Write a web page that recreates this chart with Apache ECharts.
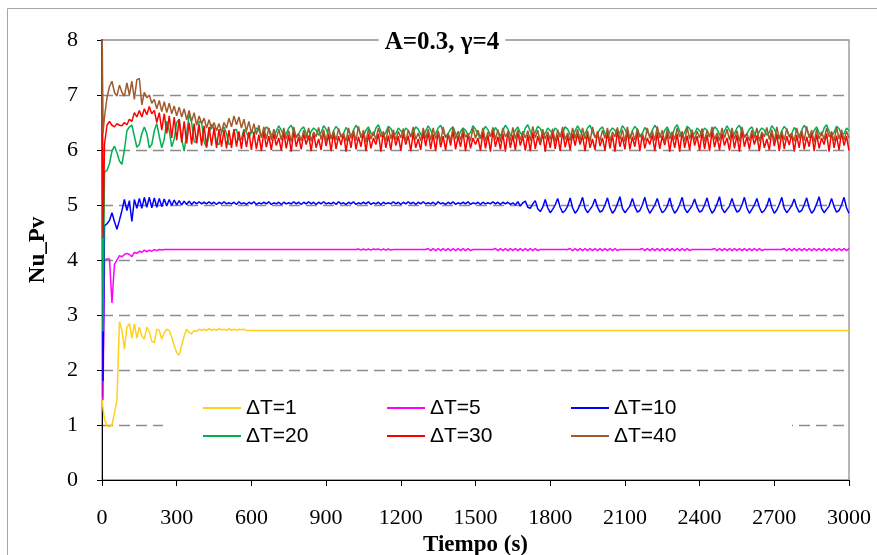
<!DOCTYPE html>
<html><head><meta charset="utf-8">
<script src="https://cdn.jsdelivr.net/npm/echarts@6.0.0/dist/echarts.min.js"></script>
<style>html,body{margin:0;padding:0;background:#fff;}#chart{width:877px;height:555px;}</style>
</head><body><div id="chart"></div>
<script>
// Sampling times (s)
const times = [0,4,
10,20,30,40,50,60,70,80,90,100,
110,120,130,140,150,160,170,180,190,200,
210,220,230,240,250,260,270,280,290,300,
310,320,330,340,350,360,370,380,390,400,
410,420,430,440,450,460,470,480,490,500,
510,520,530,540,550,560,570,580,590,600,
610,620,630,640,650,660,670,680,690,700,
710,720,730,740,750,760,770,780,790,800,
810,820,830,840,850,860,870,880,890,900,
910,920,930,940,950,960,970,980,990,1000,
1010,1020,1030,1040,1050,1060,1070,1080,1090,1100,
1110,1120,1130,1140,1150,1160,1170,1180,1190,1200,
1210,1220,1230,1240,1250,1260,1270,1280,1290,1300,
1310,1320,1330,1340,1350,1360,1370,1380,1390,1400,
1410,1420,1430,1440,1450,1460,1470,1480,1490,1500,
1510,1520,1530,1540,1550,1560,1570,1580,1590,1600,
1610,1620,1630,1640,1650,1660,1670,1680,1690,1700,
1710,1720,1730,1740,1750,1760,1770,1780,1790,1800,
1810,1820,1830,1840,1850,1860,1870,1880,1890,1900,
1910,1920,1930,1940,1950,1960,1970,1980,1990,2000,
2010,2020,2030,2040,2050,2060,2070,2080,2090,2100,
2110,2120,2130,2140,2150,2160,2170,2180,2190,2200,
2210,2220,2230,2240,2250,2260,2270,2280,2290,2300,
2310,2320,2330,2340,2350,2360,2370,2380,2390,2400,
2410,2420,2430,2440,2450,2460,2470,2480,2490,2500,
2510,2520,2530,2540,2550,2560,2570,2580,2590,2600,
2610,2620,2630,2640,2650,2660,2670,2680,2690,2700,
2710,2720,2730,2740,2750,2760,2770,2780,2790,2800,
2810,2820,2830,2840,2850,2860,2870,2880,2890,2900,
2910,2920,2930,2940,2950,2960,2970,2980,2990,3000];

const seriesNames = ['ΔT=1','ΔT=5','ΔT=10','ΔT=20','ΔT=30','ΔT=40'];

// ΔT=1
const nu1 = [1.5,1.3,
1.1,0.98,0.97,1.0,1.22,1.45,2.88,2.72,2.38,2.78,
2.84,2.58,2.84,2.58,2.78,2.62,2.56,2.78,2.7,2.52,
2.5,2.74,2.72,2.56,2.68,2.74,2.72,2.6,2.44,2.32,
2.27,2.45,2.62,2.74,2.68,2.66,2.72,2.7,2.74,2.72,
2.74,2.72,2.75,2.72,2.74,2.72,2.75,2.73,2.74,2.72,
2.75,2.72,2.74,2.72,2.74,2.73,2.74,2.72,2.72,2.72,
2.72,2.72,2.72,2.72,2.72,2.72,2.72,2.72,2.72,2.72,
2.72,2.72,2.72,2.72,2.72,2.72,2.72,2.72,2.72,2.72,
2.72,2.72,2.72,2.72,2.72,2.72,2.72,2.72,2.72,2.72,
2.72,2.72,2.72,2.72,2.72,2.72,2.72,2.72,2.72,2.72,
2.72,2.72,2.72,2.72,2.72,2.72,2.72,2.72,2.72,2.72,
2.72,2.72,2.72,2.72,2.72,2.72,2.72,2.72,2.72,2.72,
2.72,2.72,2.72,2.72,2.72,2.72,2.72,2.72,2.72,2.72,
2.72,2.72,2.72,2.72,2.72,2.72,2.72,2.72,2.72,2.72,
2.72,2.72,2.72,2.72,2.72,2.72,2.72,2.72,2.72,2.72,
2.72,2.72,2.72,2.72,2.72,2.72,2.72,2.72,2.72,2.72,
2.72,2.72,2.72,2.72,2.72,2.72,2.72,2.72,2.72,2.72,
2.72,2.72,2.72,2.72,2.72,2.72,2.72,2.72,2.72,2.72,
2.72,2.72,2.72,2.72,2.72,2.72,2.72,2.72,2.72,2.72,
2.72,2.72,2.72,2.72,2.72,2.72,2.72,2.72,2.72,2.72,
2.72,2.72,2.72,2.72,2.72,2.72,2.72,2.72,2.72,2.72,
2.72,2.72,2.72,2.72,2.72,2.72,2.72,2.72,2.72,2.72,
2.72,2.72,2.72,2.72,2.72,2.72,2.72,2.72,2.72,2.72,
2.72,2.72,2.72,2.72,2.72,2.72,2.72,2.72,2.72,2.72,
2.72,2.72,2.72,2.72,2.72,2.72,2.72,2.72,2.72,2.72,
2.72,2.72,2.72,2.72,2.72,2.72,2.72,2.72,2.72,2.72,
2.72,2.72,2.72,2.72,2.72,2.72,2.72,2.72,2.72,2.72,
2.72,2.72,2.72,2.72,2.72,2.72,2.72,2.72,2.72,2.72,
2.72,2.72,2.72,2.72,2.72,2.72,2.72,2.72,2.72,2.72,
2.72,2.72,2.72,2.72,2.72,2.72,2.72,2.72,2.72,2.72];

// ΔT=5
const nu5 = [8.5,1.45,
4.0,4.02,4.02,3.22,3.92,4.0,4.08,4.06,4.1,4.12,
4.1,4.06,4.14,4.12,4.16,4.14,4.18,4.15,4.18,4.16,
4.19,4.17,4.19,4.18,4.19,4.19,4.19,4.19,4.19,4.19,
4.19,4.19,4.19,4.19,4.19,4.19,4.19,4.19,4.19,4.19,
4.19,4.19,4.19,4.19,4.19,4.19,4.19,4.19,4.19,4.19,
4.19,4.19,4.19,4.19,4.19,4.19,4.19,4.19,4.19,4.19,
4.19,4.19,4.19,4.19,4.19,4.19,4.19,4.19,4.19,4.19,
4.19,4.19,4.19,4.19,4.19,4.19,4.19,4.19,4.19,4.19,
4.19,4.19,4.19,4.19,4.19,4.19,4.19,4.19,4.19,4.19,
4.19,4.19,4.19,4.19,4.19,4.19,4.19,4.19,4.19,4.19,
4.19,4.19,4.2,4.18,4.2,4.18,4.2,4.18,4.2,4.19,
4.2,4.18,4.2,4.18,4.2,4.18,4.19,4.19,4.19,4.19,
4.19,4.19,4.19,4.19,4.19,4.19,4.19,4.19,4.19,4.19,
4.21,4.17,4.21,4.17,4.21,4.17,4.21,4.17,4.21,4.17,
4.21,4.17,4.21,4.17,4.21,4.17,4.21,4.17,4.19,4.19,
4.19,4.19,4.19,4.19,4.19,4.19,4.19,4.21,4.17,4.21,
4.17,4.21,4.17,4.21,4.17,4.21,4.17,4.21,4.17,4.21,
4.17,4.21,4.17,4.21,4.17,4.19,4.19,4.19,4.19,4.19,
4.19,4.19,4.19,4.19,4.19,4.19,4.19,4.21,4.17,4.21,
4.17,4.21,4.17,4.21,4.17,4.21,4.17,4.21,4.17,4.21,
4.17,4.21,4.17,4.21,4.17,4.21,4.17,4.19,4.19,4.19,
4.19,4.19,4.19,4.19,4.19,4.19,4.21,4.17,4.21,4.17,
4.21,4.17,4.21,4.17,4.21,4.17,4.21,4.17,4.21,4.17,
4.21,4.17,4.21,4.17,4.21,4.17,4.19,4.19,4.19,4.19,
4.19,4.19,4.19,4.19,4.19,4.21,4.17,4.21,4.17,4.21,
4.17,4.21,4.17,4.21,4.17,4.21,4.17,4.21,4.17,4.21,
4.17,4.21,4.17,4.21,4.17,4.19,4.19,4.19,4.19,4.19,
4.19,4.19,4.19,4.21,4.17,4.21,4.17,4.21,4.17,4.21,
4.17,4.21,4.17,4.21,4.17,4.21,4.17,4.21,4.17,4.21,
4.17,4.21,4.17,4.21,4.17,4.21,4.17,4.21,4.17,4.21];

// ΔT=10
const nu10 = [8.5,1.8,
4.62,4.66,4.72,4.86,4.7,4.56,4.72,4.9,5.1,4.9,
5.08,4.7,5.1,4.94,5.12,4.94,5.14,4.96,5.14,4.95,
5.13,4.96,5.12,4.97,5.11,4.98,5.1,4.99,5.09,5.0,
5.08,5.0,5.07,5.01,5.07,5.01,5.06,5.02,5.06,5.02,
5.05,5.02,5.06,5.02,5.05,5.01,5.05,5.02,5.06,5.02,
5.04,5.02,5.05,5.01,5.06,5.02,5.04,5.01,5.05,5.02,
5.06,5.01,5.04,5.02,5.05,5.02,5.06,5.01,5.04,5.02,
5.05,5.01,5.05,5.02,5.04,5.02,5.06,5.02,5.05,5.01,
5.05,5.02,5.06,5.02,5.05,5.01,5.05,5.02,5.06,5.02,
5.04,5.02,5.05,5.01,5.06,5.02,5.04,5.01,5.05,5.02,
5.06,5.01,5.04,5.02,5.05,5.02,5.06,5.01,5.04,5.02,
5.05,5.01,5.05,5.02,5.04,5.02,5.06,5.02,5.05,5.01,
5.05,5.02,5.06,5.02,5.05,5.01,5.05,5.02,5.06,5.02,
5.04,5.02,5.05,5.01,5.06,5.02,5.04,5.01,5.05,5.02,
5.06,5.01,5.04,5.02,5.05,5.02,5.06,5.01,5.04,5.02,
5.05,5.01,5.05,5.02,5.04,5.02,5.06,5.02,5.05,5.01,
5.05,5.02,5.05,5.01,5.04,5.0,5.06,4.98,5.04,5.07,
4.96,4.94,5.02,5.08,4.93,4.88,4.96,5.1,4.95,4.86,
4.92,5.0,5.12,4.96,4.86,4.9,4.98,5.13,4.95,4.85,
4.91,5.01,5.14,4.94,4.86,4.92,4.99,5.11,4.96,4.87,
4.9,5.0,5.13,4.95,4.85,4.91,5.02,5.15,4.94,4.86,
4.92,4.98,5.12,4.97,4.87,4.9,5.0,5.14,4.95,4.85,
4.92,5.0,5.12,4.96,4.86,4.9,4.98,5.13,4.95,4.85,
4.91,5.01,5.14,4.94,4.86,4.92,4.99,5.11,4.96,4.87,
4.9,5.0,5.13,4.95,4.85,4.91,5.02,5.15,4.94,4.86,
4.92,4.98,5.12,4.97,4.87,4.9,5.0,5.14,4.95,4.85,
4.92,5.0,5.12,4.96,4.86,4.9,4.98,5.13,4.95,4.85,
4.91,5.01,5.14,4.94,4.86,4.92,4.99,5.11,4.96,4.87,
4.9,5.0,5.13,4.95,4.85,4.91,5.02,5.15,4.94,4.86,
4.92,4.98,5.12,4.97,4.87,4.9,5.0,5.14,4.95,4.85];

// ΔT=20
const nu20 = [8.5,2.7,
5.6,5.63,5.75,5.98,6.07,5.95,5.8,5.74,6.0,6.35,
6.42,6.45,6.25,6.05,6.1,6.3,6.42,6.3,6.04,6.1,
6.35,6.48,6.25,6.04,6.2,6.52,6.35,6.06,6.2,6.5,
6.56,6.2,5.98,6.3,6.65,6.5,6.15,6.14,6.52,6.5,
6.15,6.04,6.3,6.47,6.4,6.12,6.1,6.32,6.42,6.3,
6.1,6.12,6.35,6.38,6.18,6.2,6.38,6.32,6.22,6.35,
6.3,6.4,6.36,6.25,6.32,6.42,6.38,6.28,6.22,6.35,
6.44,6.36,6.26,6.3,6.4,6.45,6.33,6.24,6.3,6.38,
6.42,6.3,6.22,6.34,6.4,6.36,6.27,6.32,6.44,6.38,
6.28,6.2,6.35,6.43,6.37,6.26,6.3,6.41,6.34,6.25,
6.36,6.45,6.38,6.27,6.24,6.36,6.42,6.31,6.26,6.4,
6.46,6.34,6.25,6.32,6.43,6.39,6.28,6.3,6.4,6.35,
6.3,6.4,6.36,6.25,6.32,6.42,6.38,6.28,6.22,6.35,
6.44,6.36,6.26,6.3,6.4,6.45,6.33,6.24,6.3,6.38,
6.42,6.3,6.22,6.34,6.4,6.36,6.27,6.32,6.44,6.38,
6.28,6.2,6.35,6.43,6.37,6.26,6.3,6.41,6.34,6.25,
6.36,6.45,6.38,6.27,6.24,6.36,6.42,6.31,6.26,6.4,
6.46,6.34,6.25,6.32,6.43,6.39,6.28,6.3,6.4,6.35,
6.3,6.4,6.36,6.25,6.32,6.42,6.38,6.28,6.22,6.35,
6.44,6.36,6.26,6.3,6.4,6.45,6.33,6.24,6.3,6.38,
6.42,6.3,6.22,6.34,6.4,6.36,6.27,6.32,6.44,6.38,
6.28,6.2,6.35,6.43,6.37,6.26,6.3,6.41,6.34,6.25,
6.36,6.45,6.38,6.27,6.24,6.36,6.42,6.31,6.26,6.4,
6.46,6.34,6.25,6.32,6.43,6.39,6.28,6.3,6.4,6.35,
6.3,6.4,6.36,6.25,6.32,6.42,6.38,6.28,6.22,6.35,
6.44,6.36,6.26,6.3,6.4,6.45,6.33,6.24,6.3,6.38,
6.42,6.3,6.22,6.34,6.4,6.36,6.27,6.32,6.44,6.38,
6.28,6.2,6.35,6.43,6.37,6.26,6.3,6.41,6.34,6.25,
6.36,6.45,6.38,6.27,6.24,6.36,6.42,6.31,6.26,6.4,
6.46,6.34,6.25,6.32,6.43,6.39,6.28,6.3,6.4,6.35];

// ΔT=30
const nu30 = [8.5,4.4,
6.1,6.45,6.52,6.45,6.42,6.48,6.45,6.44,6.5,6.46,
6.56,6.52,6.68,6.6,6.72,6.6,6.75,6.64,6.79,6.66,
6.72,6.5,6.68,6.36,6.66,6.3,6.62,6.22,6.6,6.18,
6.56,6.14,6.52,6.12,6.5,6.1,6.48,6.12,6.46,6.08,
6.44,6.06,6.42,6.08,6.4,6.04,6.38,6.06,6.36,6.03,
6.36,6.04,6.38,6.06,6.34,6.02,6.35,6.05,6.33,6.0,
6.32,6.02,6.28,5.98,6.34,6.05,6.25,6.0,6.3,6.08,
6.22,5.99,6.33,6.03,6.27,5.97,6.35,6.06,6.24,6.01,
6.3,6.1,6.26,5.98,6.31,6.04,6.2,6.0,6.34,6.07,
6.28,5.98,6.32,6.02,6.25,6.09,6.3,5.97,6.27,6.04,
6.35,6.01,6.24,6.06,6.33,5.98,6.29,6.03,6.22,6.1,
6.3,5.97,6.34,6.04,6.26,6.0,6.32,6.08,6.25,5.99,
6.3,6.1,6.26,5.98,6.31,6.04,6.2,6.0,6.34,6.07,
6.32,6.02,6.28,5.98,6.34,6.05,6.25,6.0,6.3,6.08,
6.35,6.01,6.24,6.06,6.33,5.98,6.29,6.03,6.22,6.1,
6.22,5.99,6.33,6.03,6.27,5.97,6.35,6.06,6.24,6.01,
6.3,5.97,6.34,6.04,6.26,6.0,6.32,6.08,6.25,5.99,
6.28,5.98,6.32,6.02,6.25,6.09,6.3,5.97,6.27,6.04,
6.32,6.02,6.28,5.98,6.34,6.05,6.25,6.0,6.3,6.08,
6.3,6.1,6.26,5.98,6.31,6.04,6.2,6.0,6.34,6.07,
6.22,5.99,6.33,6.03,6.27,5.97,6.35,6.06,6.24,6.01,
6.35,6.01,6.24,6.06,6.33,5.98,6.29,6.03,6.22,6.1,
6.28,5.98,6.32,6.02,6.25,6.09,6.3,5.97,6.27,6.04,
6.3,5.97,6.34,6.04,6.26,6.0,6.32,6.08,6.25,5.99,
6.32,6.02,6.28,5.98,6.34,6.05,6.25,6.0,6.3,6.08,
6.22,5.99,6.33,6.03,6.27,5.97,6.35,6.06,6.24,6.01,
6.3,6.1,6.26,5.98,6.31,6.04,6.2,6.0,6.34,6.07,
6.28,5.98,6.32,6.02,6.25,6.09,6.3,5.97,6.27,6.04,
6.35,6.01,6.24,6.06,6.33,5.98,6.29,6.03,6.22,6.1,
6.3,5.97,6.34,6.04,6.26,6.0,6.32,6.08,6.25,5.99];

// ΔT=40
const nu40 = [8.5,6.3,
6.6,6.95,7.15,7.25,7.05,6.98,7.18,7.05,6.98,7.22,
7.0,7.25,6.92,7.28,7.3,6.82,7.05,6.95,7.0,6.85,
6.92,6.75,6.9,6.7,6.88,6.68,6.85,6.66,6.8,6.62,
6.78,6.6,6.75,6.55,6.72,6.52,6.68,6.45,6.62,6.48,
6.58,6.4,6.55,6.38,6.5,6.35,6.48,6.32,6.5,6.4,
6.58,6.42,6.62,6.46,6.6,6.4,6.56,6.34,6.52,6.3,
6.48,6.28,6.45,6.22,6.42,6.2,6.4,6.18,6.38,6.2,
6.38,6.18,6.4,6.2,6.35,6.15,6.42,6.22,6.3,6.17,
6.36,6.21,6.4,6.16,6.33,6.24,6.41,6.19,6.37,6.15,
6.42,6.2,6.34,6.18,6.39,6.23,6.3,6.16,6.4,6.21,
6.35,6.17,6.43,6.22,6.36,6.14,6.38,6.2,6.33,6.19,
6.4,6.24,6.32,6.16,6.41,6.2,6.37,6.18,6.34,6.22,
6.39,6.15,6.36,6.23,6.42,6.19,6.31,6.17,6.4,6.21,
6.38,6.18,6.4,6.2,6.35,6.15,6.42,6.22,6.3,6.17,
6.42,6.2,6.34,6.18,6.39,6.23,6.3,6.16,6.4,6.21,
6.36,6.21,6.4,6.16,6.33,6.24,6.41,6.19,6.37,6.15,
6.4,6.24,6.32,6.16,6.41,6.2,6.37,6.18,6.34,6.22,
6.35,6.17,6.43,6.22,6.36,6.14,6.38,6.2,6.33,6.19,
6.39,6.15,6.36,6.23,6.42,6.19,6.31,6.17,6.4,6.21,
6.38,6.18,6.4,6.2,6.35,6.15,6.42,6.22,6.3,6.17,
6.36,6.21,6.4,6.16,6.33,6.24,6.41,6.19,6.37,6.15,
6.42,6.2,6.34,6.18,6.39,6.23,6.3,6.16,6.4,6.21,
6.35,6.17,6.43,6.22,6.36,6.14,6.38,6.2,6.33,6.19,
6.4,6.24,6.32,6.16,6.41,6.2,6.37,6.18,6.34,6.22,
6.39,6.15,6.36,6.23,6.42,6.19,6.31,6.17,6.4,6.21,
6.38,6.18,6.4,6.2,6.35,6.15,6.42,6.22,6.3,6.17,
6.36,6.21,6.4,6.16,6.33,6.24,6.41,6.19,6.37,6.15,
6.42,6.2,6.34,6.18,6.39,6.23,6.3,6.16,6.4,6.21,
6.35,6.17,6.43,6.22,6.36,6.14,6.38,6.2,6.33,6.19,
6.4,6.24,6.32,6.16,6.41,6.2,6.37,6.18,6.34,6.22];

const seriesValues = [nu1, nu5, nu10, nu20, nu30, nu40];
const seriesColors = ['#FFD11A', '#FF00FF', '#0000FF', '#00B050', '#FF0000', '#A05A2C'];

function pairs(vals) {
  const n = Math.min(times.length, vals.length);
  const out = [];
  for (let i = 0; i < n; i++) out.push([times[i], vals[i]]);
  return out;
}

const chart = echarts.init(document.getElementById('chart'), null, {renderer: 'canvas'});

const legendLeft = [203, 387, 571];
const legendTop = [397, 425];
const legends = seriesNames.map((name, i) => ({
  data: [name],
  left: legendLeft[i % 3],
  top: legendTop[Math.floor(i / 3)],
  orient: 'horizontal',
  padding: 0,
  icon: 'rect',
  itemWidth: 38,
  itemHeight: 2,
  selectedMode: false,
  textStyle: {fontFamily: 'Liberation Sans', fontSize: 21, color: '#000', lineHeight: 22}
}));

const serif = 'Liberation Serif';

chart.setOption({
  animation: false,
  backgroundColor: '#fff',
  grid: {left: 102, right: 28, top: 40, bottom: 75, show: true, borderColor: '#8f8f8f', borderWidth: 1.3, containLabel: false, outerBoundsMode: 'none'},
  legend: legends,
  xAxis: {
    type: 'value', min: 0, max: 3000, interval: 300,
    name: 'Tiempo (s)', nameLocation: 'middle', nameGap: 51,
    nameTextStyle: {fontFamily: serif, fontWeight: 'bold', fontSize: 23, color: '#000'},
    axisLine: {show: true, onZero: false, lineStyle: {color: '#000', width: 1}},
    axisTick: {show: true, length: 6, inside: false, lineStyle: {color: '#000'}},
    axisLabel: {fontFamily: serif, fontSize: 22, color: '#000', margin: 27, formatter: (v) => String(v)},
    splitLine: {show: false}
  },
  yAxis: {
    type: 'value', min: 0, max: 8, interval: 1,
    name: 'Nu_Pv', nameLocation: 'middle', nameGap: 52, nameRotate: 90,
    nameTextStyle: {fontFamily: serif, fontWeight: 'bold', fontSize: 23, color: '#000', padding: [0, 0, 0, 20]},
    axisLine: {show: true, onZero: false, lineStyle: {color: '#000', width: 1}},
    axisTick: {show: true, length: 5, inside: false, lineStyle: {color: '#000'}},
    axisLabel: {fontFamily: serif, fontSize: 22, color: '#000', margin: 24, formatter: (v) => String(v)},
    splitLine: {show: true, showMinLine: false, showMaxLine: false, lineStyle: {color: '#8c8c8c', width: 1.3, type: [11, 6]}}
  },
  graphic: [
    {type: 'rect', z: 0, silent: true, shape: {x: 7.5, y: 8.5, width: 900, height: 600}, style: {fill: 'none', stroke: '#a6a6a6', lineWidth: 1}},
    {type: 'rect', z: 1, silent: true, shape: {x: 163, y: 388, width: 629, height: 66}, style: {fill: '#fff'}},
    {type: 'text', z: 10, silent: true, style: {text: 'A=0.3, γ=4', x: 442, y: 43, align: 'center', verticalAlign: 'middle', textAlign: 'center', textVerticalAlign: 'middle', font: 'bold 25px "Liberation Serif"', fill: '#000', backgroundColor: '#fff', padding: [2, 6]}}
  ],
  series: seriesNames.map((name, i) => ({
    name: name,
    type: 'line',
    data: pairs(seriesValues[i]),
    showSymbol: false,
    symbol: 'none',
    clip: true,
    color: seriesColors[i],
    lineStyle: {color: seriesColors[i], width: 1.5},
    z: 2 + i * 0.01
  }))
});
</script>
</body></html>
